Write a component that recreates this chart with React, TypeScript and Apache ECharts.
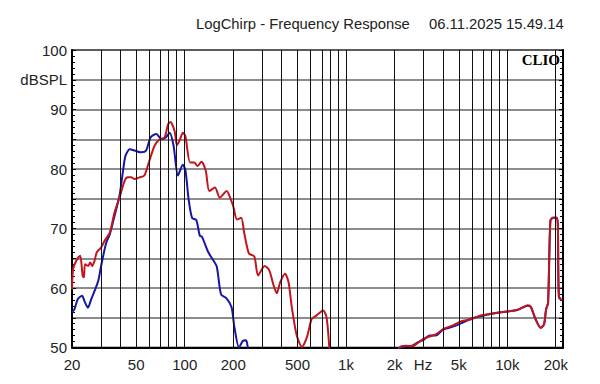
import React, { useEffect, useRef } from 'react';
import * as echarts from 'echarts';

const redFreq = [20, 20.4, 21.8, 22.5, 23.3, 23.7, 24.1, 25.2, 25.9, 26.7, 27.6, 28.5, 30.3, 31.8, 34.3, 36.7, 39.4, 42.4, 44.3, 46.6, 48.9, 52.4, 56.2, 59.9, 65, 69.9, 75, 78.8, 81.5, 86.5, 89.5, 93, 97.5, 101, 107.9, 114.7, 119.6, 127, 135, 142, 154, 165, 182, 193, 200, 211, 224, 234, 250, 270, 285, 313, 334, 355, 372, 391, 419, 440, 461, 495, 533, 572, 613, 657, 722, 757, 785, 800, 850, 1500, 2000, 2150, 2350, 2570, 2800, 3030, 3600, 4000, 4600, 5200, 5900, 6700, 7700, 8900, 10300, 11500, 12400, 13400, 14000, 15000, 16100, 16900, 17400, 17900, 18500, 19200, 20300, 20600, 20900, 21900];
const redDb = [59.8, 63.4, 65.1, 65.4, 62.0, 61.8, 64.0, 63.7, 64.3, 63.7, 64.6, 66.0, 66.8, 67.9, 69.3, 72.7, 75.2, 78.0, 78.6, 78.6, 78.3, 78.6, 78.9, 81.1, 83.9, 85.0, 85.3, 87.5, 87.9, 86.4, 84.0, 84.8, 86.1, 85.5, 81.1, 81.1, 80.5, 81.2, 79.7, 76.3, 76.9, 75.2, 76.3, 74.9, 73.7, 71.5, 71.8, 69.2, 65.8, 65.3, 62.1, 63.7, 63.0, 60.5, 59.1, 61.0, 62.4, 61.0, 56.8, 52.0, 50.1, 51.7, 54.8, 55.4, 56.2, 55.1, 50.6, 47, 43, 43, 47, 50.0, 50.3, 50.2, 50.8, 51.5, 52.2, 53.1, 53.7, 54.4, 54.7, 55.3, 55.6, 55.9, 56.1, 56.3, 56.7, 57.1, 56.8, 54.7, 53.3, 53.9, 56.4, 57.5, 71.3, 71.8, 71.8, 70.0, 58.5, 57.9];

const blueFreq = [20, 20.7, 21.7, 23.1, 23.9, 25.1, 26.3, 27.6, 29.1, 30.3, 32.6, 34.3, 36.7, 39.4, 41.3, 42.9, 45.6, 48.9, 53.6, 57.6, 61.4, 66.7, 71.9, 76.4, 80.6, 85.2, 90.8, 97.4, 101, 105.7, 111, 118, 124, 128, 140, 150, 158, 168, 181, 195, 203, 217, 229, 240, 246, 255, 300, 1500, 2000, 2100, 2350, 2570, 2800, 3030, 3300, 3600, 4000, 4600, 5200, 5900, 6700, 7700, 8900, 10300, 11500, 12400, 13400, 14000, 15000, 16100, 16900, 17400, 17900, 18500, 19200, 20300, 20600, 20900, 21900];
const blueDb = [55.9, 56.4, 58.1, 58.7, 57.8, 56.7, 58.1, 59.5, 61.2, 63.7, 67.6, 69.0, 72.1, 75.5, 79.4, 82.2, 83.3, 83.1, 82.8, 83.1, 85.3, 85.9, 85.0, 85.3, 86.1, 84.0, 78.9, 80.7, 79.8, 74.9, 71.8, 71.4, 68.8, 68.6, 66.0, 64.7, 63.6, 58.9, 58.3, 56.8, 53.5, 50.0, 51.1, 51.2, 50.0, 46, 42, 42, 46, 49.6, 50.2, 50.3, 50.9, 51.3, 52.0, 52.0, 53.0, 53.5, 54.1, 54.8, 55.2, 55.6, 55.9, 56.1, 56.3, 56.7, 57.0, 56.8, 54.7, 53.3, 53.9, 56.4, 57.5, 71.3, 71.8, 71.8, 70.0, 58.5, 57.9];

const gridFreqs = [30, 40, 50, 60, 70, 80, 90, 100, 200, 300, 400, 500, 600, 700, 800, 900, 1000, 2000, 3000, 4000, 5000, 6000, 7000, 8000, 9000, 10000, 20000];
const labelFreqs = [20, 50, 100, 200, 500, 1000, 2000, 3000, 5000, 10000, 20000];
const labelTexts = ['20', '50', '100', '200', '500', '1k', '2k', 'Hz', '5k', '10k', '20k'];

const titleText = 'LogChirp - Frequency Response';
const dateText = '06.11.2025 15.49.14';
const brandText = 'CLIO';
const yUnitText = 'dBSPL';

const FMIN = 20;
const FMAX = 22150;
const DBMIN = 50;
const DBMAX = 100;

const FONT = '"Liberation Sans", Arial, sans-serif';

export default function App() {
  const ref = useRef<HTMLDivElement>(null);
  useEffect(() => {
    document.body.style.margin = '0';
    if (!ref.current) return;
    const chart = echarts.init(ref.current, null, { renderer: 'svg' });
    const toPts = (fs: number[], ds: number[]) => fs.map((f, i) => [Math.log10(f), ds[i]]);
    const yAxisBase = {
      type: 'value',
      min: DBMIN,
      max: DBMAX,
      interval: 5,
      axisLine: { show: true, lineStyle: { color: '#000', width: 2 } },
      axisTick: { show: true, inside: true, length: 4, lineStyle: { color: '#000', width: 1 } },
      minorTick: { show: true, splitNumber: 5, length: 3, lineStyle: { color: '#000', width: 1 } },
    };
    chart.setOption({
      animation: false,
      backgroundColor: '#fff',
      grid: {
        left: 72,
        top: 50,
        width: 491,
        height: 297.5,
        show: true,
        borderColor: '#000',
        borderWidth: 1.5,
        containLabel: false,
      },
      graphic: [
        { type: 'text', left: 196, top: 16, style: { text: titleText, font: `14.8px ${FONT}`, fill: '#222' } },
        { type: 'text', left: 429, top: 16, style: { text: dateText, font: `14.8px ${FONT}`, fill: '#222' } },
        { type: 'text', right: 40, top: 52, z: 10, style: { text: brandText, font: `bold 15px "Liberation Serif", "Times New Roman", serif`, fill: '#000' } },
      ],
      xAxis: {
        type: 'value',
        min: Math.log10(FMIN),
        max: Math.log10(FMAX),
        axisLine: { show: true, onZero: false, lineStyle: { color: '#000', width: 2 } },
        axisTick: { show: false },
        splitLine: { show: false },
        axisLabel: {
          show: true,
          customValues: labelFreqs.map((f) => Math.log10(f)),
          margin: 9,
          color: '#222',
          fontSize: 15,
          fontFamily: FONT,
          formatter: (v: number) => {
            const idx = labelFreqs.findIndex((f) => Math.abs(Math.log10(f) - v) < 1e-6);
            return idx >= 0 ? labelTexts[idx] : '';
          },
        },
      },
      yAxis: [
        {
          ...yAxisBase,
          position: 'left',
          splitLine: { show: true, lineStyle: { color: '#666', width: 1.5 } },
          axisLabel: {
            margin: 5,
            color: '#222',
            fontSize: 15,
            fontFamily: FONT,
            formatter: (v: number) => (v % 10 === 0 ? String(v) : v === 95 ? yUnitText : ''),
          },
        },
        {
          ...yAxisBase,
          position: 'right',
          splitLine: { show: false },
          axisLabel: { show: false },
        },
      ],
      series: [
        {
          type: 'line',
          data: [[Math.log10(FMIN), DBMIN]],
          symbol: 'none',
          lineStyle: { width: 0, opacity: 0 },
          silent: true,
          z: 1,
          markLine: {
            silent: true,
            symbol: ['none', 'none'],
            label: { show: false },
            lineStyle: { color: '#111', width: 1, type: 'solid' },
            emphasis: { disabled: true },
            data: gridFreqs.map((f) => ({ xAxis: Math.log10(f) })),
          },
        },
        {
          type: 'line',
          data: toPts(blueFreq, blueDb),
          symbol: 'none',
          smooth: 0.25,
          clip: true,
          lineStyle: { color: '#1616a6', width: 2 },
          silent: true,
          z: 3,
        },
        {
          type: 'line',
          data: toPts(redFreq, redDb),
          symbol: 'none',
          smooth: 0.25,
          clip: true,
          lineStyle: { color: '#c2161c', width: 2 },
          silent: true,
          z: 4,
        },
      ],
    });
    return () => chart.dispose();
  }, []);
  return <div ref={ref} style={{ width: 600, height: 384 }} />;
}
